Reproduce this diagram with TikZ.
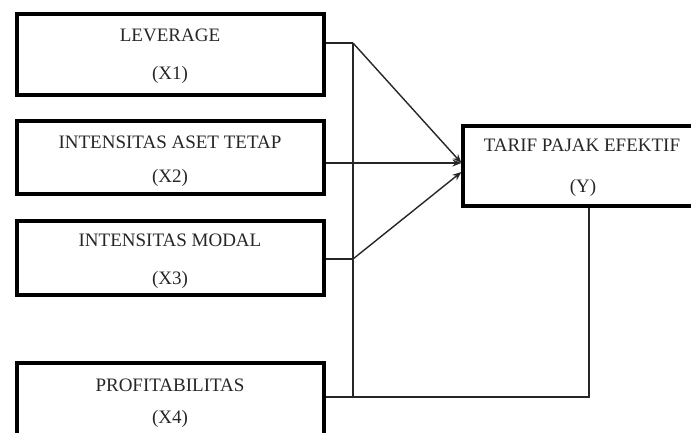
\documentclass[tikz,border=0pt]{standalone}
\usepackage{fontspec}
\setmainfont{Liberation Serif}
\usetikzlibrary{arrows.meta}
\begin{document}
\begin{tikzpicture}[x=1pt,y=-1pt,
  box/.style={draw=black,line width=3.2pt,rectangle,inner sep=0pt,minimum width=307pt},
  lbl/.style={inner sep=0pt,text=black!85,font=\fontsize{19}{21}\selectfont},
  conn/.style={draw=black!85,line width=1.4pt},
  arr/.style={conn,-{Stealth[length=9pt,width=7pt]}}]
\useasboundingbox (0,0) rectangle (691,432);
\clip (0,0) rectangle (691,432);
\node[box,minimum height=81pt] (X1) at (170.5,54.5) {};
\node[box,minimum height=73pt] (X2) at (170.5,157.5) {};
\node[box,minimum height=74pt] (X3) at (170.5,258) {};
\node[box,minimum height=87pt] (X4) at (170.5,406.5) {};
\node[box,minimum width=238pt,minimum height=80pt] (Y) at (582,166) {};
\node[lbl] (t1a) at (170,35) {LEVERAGE};
\node[lbl] (t1b) at (170,75) {(X1)};
\node[lbl] (t2a) at (170,142) {INTENSITAS ASET TETAP};
\node[lbl] (t2b) at (170,178) {(X2)};
\node[lbl] (t3a) at (170,240) {INTENSITAS MODAL};
\node[lbl] (t3b) at (170,280) {(X3)};
\node[lbl] (t4a) at (170,385) {PROFITABILITAS};
\node[lbl] (t4b) at (170,419) {(X4)};
\node[lbl] (tya) at (582,145) {TARIF PAJAK EFEKTIF};
\node[lbl] (tyb) at (583,188) {(Y)};
\coordinate (j1) at (353,43);
\coordinate (j3) at (353,259);
\coordinate (j4) at (353,397);
\coordinate (c4) at (589,397);
\coordinate (yin) at ([yshift=3pt]Y.west);
\coordinate (yin3) at ([yshift=-6pt]Y.west);
\draw[conn] (j1 -| X1.east) -- (j1);
\draw[arr] (j1) -- (yin);
\draw[arr] (yin -| X2.east) -- (yin);
\draw[conn] (j3 -| X3.east) -- (j3);
\draw[arr] (j3) -- (yin3);
\draw[conn] (j1) -- (j4);
\draw[conn] (j4 -| X4.east) -- (c4) -- (c4 |- Y.south);
\end{tikzpicture}
\end{document}
